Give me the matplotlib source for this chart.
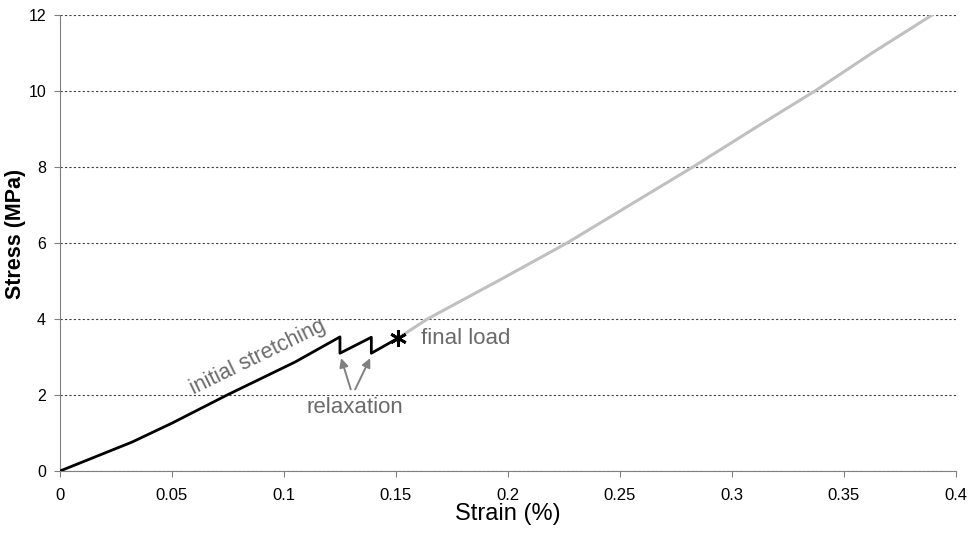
import matplotlib
matplotlib.use("Agg")
import matplotlib.pyplot as plt

plt.rcParams['font.family'] = ['Liberation Sans', 'DejaVu Sans']

# initial stretching with two relaxation drops (black)
strain_init = [0.0, 0.0321, 0.05, 0.0746, 0.105, 0.125, 0.125, 0.139, 0.139, 0.151]
stress_init = [0.0, 0.76, 1.26, 2.0, 2.87, 3.53, 3.1, 3.52, 3.1, 3.5]

# final loading (grey)
strain_final = [0.151, 0.164, 0.1964, 0.2263, 0.2825, 0.3103, 0.337, 0.3625, 0.3893]
stress_final = [3.5, 4.0, 5.03, 6.0, 8.0, 9.03, 10.0, 11.0, 12.0]

final_pt = (0.151, 3.5)

xticks = [0, 0.05, 0.1, 0.15, 0.2, 0.25, 0.3, 0.35, 0.4]
xticklabels = ['0', '0.05', '0.1', '0.15', '0.2', '0.25', '0.3', '0.35', '0.4']
yticks = [0, 2, 4, 6, 8, 10, 12]

fig = plt.figure(figsize=(9.72, 5.38), dpi=100)
ax = fig.add_axes([0.0617, 0.1245, 0.9218, 0.8475])

ax.plot(strain_final, stress_final, color='#c0c0c0', lw=2.2, zorder=2)
ax.plot(strain_init, stress_init, color='black', lw=2.0, zorder=3)
ax.plot(*final_pt, marker=(6, 2, 0), color='black', ms=12, mew=2.0, zorder=4)

ax.set_xlim(0, 0.4)
ax.set_ylim(0, 12)
ax.set_xticks(xticks)
ax.set_xticklabels(xticklabels)
ax.set_yticks(yticks)
ax.yaxis.grid(True, linestyle=(0, (2, 2)), color='#404040', lw=0.8)
ax.set_axisbelow(True)
for s in ['top', 'right']:
    ax.spines[s].set_visible(False)
for s in ['left', 'bottom']:
    ax.spines[s].set_color('#808080')
ax.tick_params(direction='out', length=4, color='#808080', pad=6)
ax.tick_params(axis='x', labelsize=12, pad=8)
ax.tick_params(axis='y', labelsize=11.5)

ax.set_xlabel('Strain (%)', fontsize=17, labelpad=0)
ax.set_ylabel('Stress (MPa)', fontsize=15.5, fontweight='bold')
ax.yaxis.set_label_coords(-0.038, 0.52)

grey_text = '#6a6a6a'
ax.text(0.0885, 3.0, 'initial stretching', rotation=26, color=grey_text,
        fontsize=15.5, ha='center', va='center', rotation_mode='anchor')
ax.text(0.161, 3.5, 'final load', color=grey_text, fontsize=16, ha='left', va='center')
ax.text(0.1315, 1.66, 'relaxation', color=grey_text, fontsize=16, ha='center', va='center')
for hx, tx in [(0.1255, 0.1298), (0.1385, 0.1318)]:
    ax.annotate('', xy=(hx, 2.97), xytext=(tx, 2.15),
                arrowprops=dict(arrowstyle='-|>', color='#808080', lw=1.4,
                                mutation_scale=13, shrinkA=0, shrinkB=0))

fig.savefig('out.png', dpi=100)
